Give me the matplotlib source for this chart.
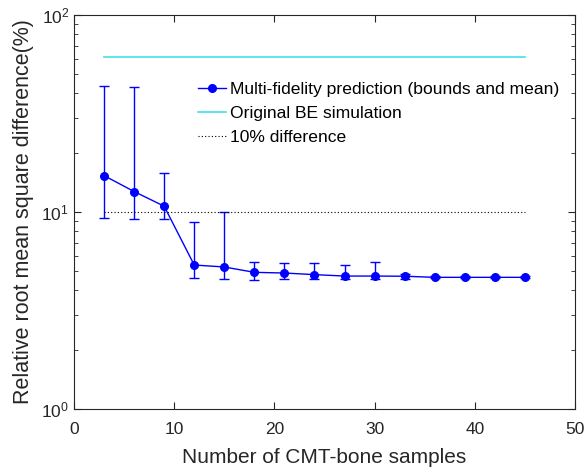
import numpy as np
import matplotlib.pyplot as plt
from matplotlib.lines import Line2D

plt.rcParams['font.family'] = ['Liberation Sans', 'DejaVu Sans']

# values
samples = [3, 6, 9, 12, 15, 18, 21, 24, 27, 30, 33, 36, 39, 42, 45]
mean_err = [15.3, 12.7, 10.7, 5.38, 5.26, 4.94, 4.90, 4.81, 4.73, 4.73, 4.72, 4.66, 4.66, 4.66, 4.66]
upper = [43.8, 43.1, 15.7, 8.9, 10.0, 5.55, 5.51, 5.49, 5.38, 5.57, 4.85, 4.75, 4.72, 4.72, 4.72]
lower = [9.29, 9.25, 9.21, 4.61, 4.57, 4.53, 4.56, 4.57, 4.57, 4.57, 4.57, 4.60, 4.61, 4.61, 4.61]
be_sim = 61.4
threshold = 10.0

mean_err = np.array(mean_err)
yerr = [mean_err - np.array(lower), np.array(upper) - mean_err]

fig = plt.figure(figsize=(5.87, 4.75), dpi=100)
ax = fig.add_axes([74 / 587, 66 / 475, 501 / 587, 394 / 475])

ax.errorbar(samples, mean_err, yerr=yerr, color='blue', lw=1, capsize=3.5,
            capthick=1, marker='o', ms=5.5)
ax.plot([samples[0], samples[-1]], [be_sim, be_sim], color='#40e0e8', lw=1.2)
ax.plot([samples[0], samples[-1]], [threshold, threshold], color='black', lw=0.8, ls=(0, (1, 2)))

ax.set_yscale('log')
ax.set_xlim(0, 50)
ax.set_ylim(1, 100)
ax.set_xticks([0, 10, 20, 30, 40, 50])
ax.tick_params(which='both', direction='in', top=True, right=True, labelsize=12.5,
               colors='#262626')
ax.tick_params(which='major', length=5)
ax.tick_params(which='minor', length=3)
ax.tick_params(axis='x', pad=9)
for s in ax.spines.values():
    s.set_linewidth(0.8)
    s.set_color('#262626')

ax.set_xlabel('Number of CMT-bone samples', fontsize=15, labelpad=8, color='#262626')
ax.set_ylabel('Relative root mean square difference(%)', fontsize=15.5, labelpad=5,
              color='#262626')

handles = [
    Line2D([], [], color='blue', lw=1, marker='o', ms=5.5),
    Line2D([], [], color='#40e0e8', lw=1.2),
    Line2D([], [], color='black', lw=0.8, ls=(0, (1, 2))),
]
labels = ['Multi-fidelity prediction (bounds and mean)', 'Original BE simulation', '10% difference']
ax.legend(handles, labels, loc='upper left', bbox_to_anchor=(0.231, 0.853), frameon=False,
          fontsize=12.6, handlelength=1.6, handletextpad=0.22, labelspacing=0.5, borderpad=0)

fig.savefig('out.png', dpi=100)
